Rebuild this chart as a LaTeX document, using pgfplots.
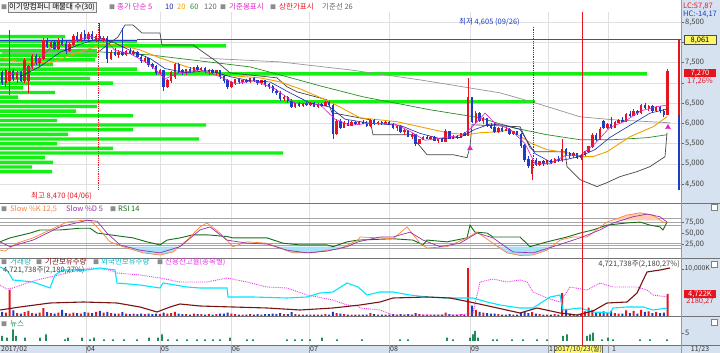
\documentclass[border=0pt]{standalone}
\usepackage{pgfplots}
\pgfplotsset{compat=1.18}
\usepackage{pgfplotstable}
\usepackage{fontspec}
\setmainfont{Noto Sans CJK KR}
\definecolor{upred}{RGB}{230,20,30}
\definecolor{dnblue}{RGB}{30,60,200}
\definecolor{maf}{RGB}{225,30,200}
\definecolor{mat}{RGB}{30,40,160}
\definecolor{matw}{RGB}{240,160,0}
\definecolor{mas}{RGB}{40,140,40}
\definecolor{mah}{RGB}{150,150,150}
\definecolor{kij}{RGB}{70,70,70}
\definecolor{prof}{RGB}{20,240,20}
\definecolor{stk}{RGB}{255,130,60}
\definecolor{std}{RGB}{150,50,170}
\definecolor{rsi}{RGB}{20,110,20}
\definecolor{frn}{RGB}{0,230,255}
\definecolor{inst}{RGB}{120,20,20}
\definecolor{cred}{RGB}{230,60,230}
\definecolor{newsg}{RGB}{30,140,90}
\definecolor{rbg}{RGB}{214,226,240}
\definecolor{volc}{RGB}{40,170,170}

\pgfplotstableread{
i o h l c v
0 7250 7300 6950 7000 900
1 7000 7350 6900 7300 700
2 7050 8300 6700 7280 5600
3 7280 7350 7050 7100 1200
4 7100 7300 7000 7250 600
5 7250 7280 7020 7050 500
6 7050 7600 7000 7550 800
7 7050 7450 6750 7400 1100
8 7400 7700 7350 7650 600
9 7650 7700 7450 7500 500
10 7500 7650 7400 7600 700
11 7600 8100 7550 8050 1700
12 8050 8100 7850 7900 800
13 7900 8050 7850 8000 600
14 8000 8050 7800 7850 500
15 7850 8100 7800 8050 700
16 8050 8100 7900 7950 1300
17 7950 8050 7700 7800 600
18 7800 8000 7750 7950 500
19 7950 8200 7900 8150 700
20 8150 8250 8000 8050 600
21 8050 8250 8000 8200 500
22 8200 8300 8050 8100 800
23 8100 8250 8050 8200 700
24 8200 8280 8050 8100 600
25 8100 8200 8000 8150 900
26 8150 8470 8050 8100 1100
27 8050 8150 8000 8100 700
28 8100 8150 7500 7600 900
29 7600 7800 7550 7750 600
30 7750 7850 7650 7700 500
31 7700 7800 7600 7750 500
32 7750 8350 7650 7700 800
33 7700 7800 7650 7780 500
34 7780 7850 7700 7720 400
35 7720 7800 7650 7760 500
36 7760 7780 7600 7640 400
37 7640 7700 7500 7550 500
38 7550 7650 7500 7600 400
39 7600 7620 7400 7450 500
40 7450 7500 7350 7400 400
41 7400 7450 7200 7250 500
42 7250 7350 7200 7300 400
43 7300 7300 6800 6900 700
44 6900 7100 6880 7050 500
45 7050 7300 7000 7250 600
46 7150 7500 7100 7450 900
47 7450 7480 7250 7300 500
48 7300 7350 7200 7250 400
49 7250 7350 7200 7320 400
50 7320 7400 7250 7280 300
51 7280 7400 7250 7380 500
52 7380 7450 7300 7320 400
53 7320 7400 7280 7350 400
54 7350 7380 7250 7280 300
55 7280 7350 7200 7300 400
56 7300 7330 7220 7250 300
57 7250 7320 7200 7300 400
58 7300 7310 7100 7150 500
59 7150 7200 7000 7050 500
60 7050 7100 6850 6900 700
61 6900 7050 6880 7000 500
62 7000 7100 6950 7080 400
63 7080 7100 6980 7020 300
64 7020 7080 6980 7050 300
65 7050 7100 7000 7030 300
66 7030 7120 7000 7100 400
67 7100 7150 7020 7050 300
68 7050 7080 6950 7000 400
69 7000 7060 6950 7050 300
70 7050 7080 6900 6950 400
71 6950 7000 6850 6900 400
72 6900 6950 6750 6800 500
73 6800 6850 6700 6750 400
74 6750 6800 6550 6600 600
75 6600 6700 6550 6650 400
76 6650 6680 6500 6550 400
77 6550 6600 6380 6420 800
78 6420 6500 6380 6480 400
79 6480 6520 6400 6440 300
80 6440 6500 6400 6480 300
81 6480 6520 6420 6450 300
82 6450 6520 6420 6500 300
83 6500 6530 6400 6420 300
84 6420 6500 6380 6470 300
85 6470 6500 6400 6430 300
86 6430 6550 6420 6520 400
87 6520 6550 6420 6450 300
88 6450 6480 5600 5750 900
89 5750 6100 5700 6050 600
90 6050 6100 5850 5900 500
91 5900 6050 5880 6000 400
92 6000 6080 5920 5950 300
93 5950 6050 5930 6020 300
94 6020 6060 5950 5980 300
95 5980 6050 5960 6030 300
96 6030 6080 5980 6000 300
97 6000 6050 5900 5930 300
98 5930 6100 5900 6080 600
99 6080 6100 5950 5980 400
100 5980 6050 5950 6020 300
101 6020 6060 5960 5990 300
102 5990 6050 5970 6030 300
103 6030 6060 5950 5970 300
104 5970 6000 5850 5880 400
105 5880 5950 5820 5920 300
106 5920 5940 5750 5780 400
107 5780 5850 5700 5820 300
108 5820 5840 5650 5680 400
109 5680 5750 5620 5720 300
110 5720 5740 5450 5500 600
111 5500 5620 5480 5600 400
112 5600 5680 5580 5650 300
113 5650 5700 5600 5620 300
114 5620 5680 5590 5660 300
115 5660 5680 5550 5580 300
116 5580 5620 5520 5600 300
117 5600 5640 5530 5550 300
118 5550 5850 5540 5800 700
119 5800 5820 5600 5620 400
120 5620 5700 5600 5680 300
121 5680 5720 5620 5650 300
122 5650 5760 5640 5740 400
123 5740 5780 5680 5700 300
124 5700 7120 5690 6630 10200
125 6630 6650 6000 6050 2200
126 6050 6300 6000 6250 1300
127 6250 6280 6020 6060 900
128 6060 6150 5980 6120 700
129 6120 6140 5900 5950 600
130 5950 6000 5850 5900 500
131 5900 6000 5750 5800 500
132 5800 5900 5750 5880 400
133 5880 5920 5780 5820 300
134 5820 5900 5800 5860 300
135 5860 5880 5700 5750 400
136 5750 5820 5700 5800 300
137 5800 5810 5700 5720 300
138 5720 5750 5400 5450 700
139 5450 5500 5050 5100 900
140 5100 5200 4900 4950 600
141 4750 5120 4605 5080 800
142 5080 5150 4950 4980 500
143 4980 5080 4950 5050 400
144 5050 5100 4950 5000 300
145 5000 5100 4980 5080 300
146 5080 5120 5000 5030 300
147 5030 5150 5020 5120 400
148 5120 5200 5050 5100 300
149 5100 5600 5050 5350 4900
150 5350 5400 5200 5250 1500
151 5250 5300 5150 5200 500
152 5200 5280 5150 5250 400
153 5250 5270 5120 5150 300
154 5150 5250 5100 5220 400
155 5220 5320 5200 5300 1000
156 5300 5450 5280 5420 1800
157 5420 5750 5400 5700 1300
158 5700 5750 5550 5600 700
159 5600 5900 5580 5850 900
160 6050 6080 5850 5880 1000
161 5880 6000 5860 5980 600
162 5980 6150 5850 5900 1100
163 5900 6050 5880 6020 600
164 6020 6100 6000 6080 500
165 6080 6150 6020 6050 500
166 6050 6250 6030 6220 1200
167 6220 6300 6150 6180 600
168 6180 6350 6170 6300 1100
169 6300 6330 6200 6250 500
170 6250 6480 6230 6450 1300
171 6450 6500 6350 6380 900
172 6380 6450 6300 6420 1000
173 6420 6440 6250 6300 600
174 6300 6420 6280 6400 900
175 6400 6420 6250 6300 600
176 6300 6350 6150 6200 700
177 6200 7330 6200 7270 4722
}\candles

\pgfplotsset{
  panel/.style={
    scale only axis, width=681pt, xmin=0, xmax=681,
    clip mode=individual,
    axis line style={draw=none},
    scaled y ticks=false, scaled x ticks=false,
    xtick={86,160,231,309,389,470,548,608}, xticklabels={},
    xmajorgrids, major x grid style={black!12}, major x tick style={draw=none},
    ytick pos=right, yticklabel pos=right, tick align=outside, major tick length=3pt,
    y tick style={black!60},
    yticklabel style={anchor=west, inner sep=1pt, font=\fontsize{7.5}{8}\selectfont, text=black!75},
  },
  up/.style={restrict expr to domain={\thisrow{c}-\thisrow{o}}{0:100000}},
  dn/.style={restrict expr to domain={\thisrow{c}-\thisrow{o}}{-100000:-0.01}},
}
\newcommand{\sq}{{\color{black!45}\fontsize{6}{6}\selectfont ■}}

\begin{document}
\begin{tikzpicture}[x=1pt,y=1pt,font=\fontsize{7.5}{8}\selectfont]
\useasboundingbox (0,0) rectangle (720,353);
\fill[white] (0,0) rectangle (720,353);
\fill[rbg] (681,0) rectangle (720,353);
\fill[rbg] (0,0) rectangle (720,8);

% ---------- price panel ----------
\begin{axis}[panel, at={(0pt,150pt)}, anchor=south west, height=191pt,
  ymin=4031, ymax=8747,
  ytick={4500,5000,5500,6000,6500,7000,7500,8000,8500},
  yticklabels={{4,500},{5,000},{5,500},{6,000},{6,500},{},{7,500},{},{8,500}},
  ymajorgrids, major y grid style={black!12}]
% volume profile
\addplot[xbar, bar shift=0pt, bar width=3.4pt, draw=none, fill=prof] coordinates {
(65,8138) (137,8025) (226,7909) (97,7793) (97,7680) (95,7564) (53,7448) (137,7335)
(647,7219) (90,7104) (113,6990) (23,6874) (55,6759) (18,6645) (535,6530) (97,6414)
(76,6300) (133,6185) (57,6069) (206,5956) (133,5840) (68,5724) (199,5611) (57,5495)
(113,5379) (283,5266) (45,5150) (53,5034) (32,4921) (52,4806)};
% limit lines
\addplot[dnblue, line width=0.8pt] coordinates {(0,8044) (137,8044)};
\addplot[upred, line width=0.8pt] coordinates {(137,8061) (681,8061)};
% moving averages
\addplot[mah, line width=0.7pt] coordinates {(200,7613) (280,7515) (350,7318) (420,7071) (500,6751) (535,6505) (580,6160) (613,6086) (670,6012)};
\addplot[mas, line width=0.7pt] coordinates {(100,7761) (150,7687) (200,7539) (250,7392) (280,7195) (320,6924) (363,6653) (430,6333) (480,6136) (513,5889) (547,5717) (580,5594) (613,5594) (647,5643) (667,5717)};
\addplot[kij, line width=0.7pt] coordinates {(2,7736) (97,7736) (118,8131) (125,8426) (133,8426) (142,8229) (160,8229) (162,7934) (193,7934) (217,7515) (230,7244) (277,7121) (287,6899) (297,6776) (327,6579) (332,6259) (370,6086) (373,5717) (413,5717) (417,5520) (427,5224) (453,5224) (467,5150) (470,5421) (472,5963) (520,5914) (530,5397) (535,5298) (565,5298) (567,4929) (580,4608) (597,4436) (607,4535) (620,4682) (637,4806) (650,4929) (665,5175) (667,5766)};
\addplot[matw, line width=0.9pt] coordinates {(2,7613) (20,7515) (50,7490) (77,7736) (100,7934) (120,7934) (140,7810) (160,7613) (187,7392) (220,7195) (260,7121) (280,7022) (300,6850) (330,6530) (360,6136) (397,6037) (420,5914) (447,5766) (467,5717) (480,5766) (500,5791) (510,5840) (530,5520) (547,5347) (567,5273) (580,5175) (593,5175) (607,5298) (630,5668) (653,5914) (667,6160)};
% candles
\addplot[draw=none, up, error bars/.cd, y dir=both, y explicit, error mark=none, error bar style={draw=upred, line width=0.6pt}]
  table[x expr=2+3.76*\thisrow{i}, y expr=(\thisrow{h}+\thisrow{l})/2, y error expr=(\thisrow{h}-\thisrow{l})/2] {\candles};
\addplot[draw=none, dn, error bars/.cd, y dir=both, y explicit, error mark=none, error bar style={draw=dnblue, line width=0.6pt}]
  table[x expr=2+3.76*\thisrow{i}, y expr=(\thisrow{h}+\thisrow{l})/2, y error expr=(\thisrow{h}-\thisrow{l})/2] {\candles};
\addplot[draw=none, up, error bars/.cd, y dir=both, y explicit, error mark=none, error bar style={draw=upred, line width=2.4pt}]
  table[x expr=2+3.76*\thisrow{i}, y expr=(\thisrow{o}+\thisrow{c})/2, y error expr=abs(\thisrow{c}-\thisrow{o})/2+8] {\candles};
\addplot[draw=none, dn, error bars/.cd, y dir=both, y explicit, error mark=none, error bar style={draw=dnblue, line width=2.4pt}]
  table[x expr=2+3.76*\thisrow{i}, y expr=(\thisrow{o}+\thisrow{c})/2, y error expr=abs(\thisrow{c}-\thisrow{o})/2+8] {\candles};
% short MAs
\addplot[mat, line width=0.6pt] coordinates {(20,7150) (40,7400) (60,7750) (80,7950) (100,8100) (115,7980) (130,7800) (150,7600) (165,7350) (185,7250) (210,7300) (230,7150) (250,7050) (270,7020) (290,6750) (310,6500) (330,6400) (345,6100) (370,6000) (400,5950) (420,5750) (440,5620) (460,5650) (475,5850) (490,5980) (505,5950) (520,5850) (535,5250) (550,5050) (565,5100) (580,5180) (595,5350) (610,5650) (630,5950) (650,6250) (667,6350)};
\addplot[maf, line width=0.6pt] coordinates {(10,7200) (30,7350) (50,7850) (70,8000) (90,8150) (105,8050) (115,7800) (130,7720) (150,7450) (165,7100) (180,7250) (200,7320) (220,7150) (235,6980) (255,7050) (275,6850) (295,6500) (320,6460) (335,6100) (350,5950) (370,6000) (395,5980) (410,5800) (425,5580) (445,5650) (462,5700) (472,5900) (485,6250) (495,6000) (510,5850) (525,5500) (535,5000) (550,5000) (565,5200) (580,5200) (595,5500) (610,5900) (625,6050) (640,6300) (655,6400) (667,6450)};
% range bar and markers
\addplot[upred, line width=1.4pt] coordinates {(679,8061) (679,6200)};
\addplot[dnblue, line width=1.4pt] coordinates {(679,6200) (679,4360)};
\addplot[only marks, mark=triangle*, mark size=2.8pt, color=maf] coordinates {(470,5380) (668,5900)};
\addplot[upred, densely dotted, line width=0.8pt] coordinates {(98,8470) (98,4360)};
\addplot[dnblue, densely dotted, line width=0.8pt] coordinates {(533,8380) (533,4900)};
\node[anchor=east, text=upred, inner sep=1pt] at (axis cs:93,4190) {최고 8,470 (04/06)};
\node[anchor=west, text=dnblue, inner sep=1pt] at (axis cs:458,8500) {최저 4,605 (09/26)};
\end{axis}

% ---------- stochastic panel ----------
\begin{axis}[panel, at={(0pt,95pt)}, anchor=south west, height=55pt,
  ymin=-5.7, ymax=119.3, ytick={25,50,75}, yticklabels={{25,00},{50,00},{75,00}}]
\draw[black!35] (axis cs:0,84) -- (axis cs:681,84);
\draw[black!35] (axis cs:0,75) -- (axis cs:681,75);
\draw[black!35] (axis cs:0,69) -- (axis cs:681,69);
\draw[black!35] (axis cs:0,29) -- (axis cs:681,29);
\draw[black!35] (axis cs:0,24) -- (axis cs:681,24);
\draw[black!35] (axis cs:0,16) -- (axis cs:681,16);
\addplot[fill=cyan!35, draw=none] coordinates {(125,20) (127,17) (143,6) (160,1) (173,8) (178,20)};
\addplot[fill=cyan!35, draw=none] coordinates {(276,20) (280,17) (293,6) (313,6) (327,12) (340,15) (348,20)};
\addplot[fill=cyan!35, draw=none] coordinates {(496,20) (507,6) (520,0) (533,1) (547,12) (553,20)};
\addplot[fill=stk!40, draw=none] coordinates {(612,80) (627,92) (640,97) (653,92) (660,80)};
\addplot[rsi, line width=0.9pt] coordinates {(0,31) (10,40) (30,51) (40,58) (60,58) (80,62) (90,62) (97,51) (110,47) (133,40) (147,31) (160,24) (167,35) (180,40) (193,47) (207,47) (227,43) (233,40) (267,40) (283,28) (300,24) (317,24) (327,24) (333,20) (347,31) (358,35) (393,38) (413,35) (423,24) (427,35) (447,31) (467,40) (470,69) (475,53) (487,51) (493,42) (520,42) (530,20) (547,31) (567,42) (580,51) (593,58) (607,69) (627,74) (640,76) (650,69) (660,65) (663,58) (667,76)};
\addplot[stk, line width=0.7pt] coordinates {(0,12) (5,10) (17,28) (33,40) (50,58) (67,76) (83,80) (90,80) (97,65) (110,31) (127,17) (143,6) (160,1) (173,8) (187,35) (200,65) (207,74) (220,51) (233,20) (247,31) (267,28) (280,17) (293,6) (313,6) (327,12) (340,15) (358,35) (360,42) (380,40) (393,38) (407,65) (420,28) (427,17) (447,20) (467,40) (477,53) (493,28) (507,6) (520,0) (533,1) (547,12) (560,35) (573,42) (587,42) (607,76) (627,92) (640,97) (653,92) (663,76) (667,74)};
\addplot[std, line width=0.7pt] coordinates {(0,31) (10,20) (33,35) (60,65) (87,80) (97,78) (107,51) (120,24) (140,12) (160,6) (180,20) (200,58) (210,65) (227,35) (247,28) (267,26) (287,12) (307,6) (327,10) (347,20) (358,31) (380,42) (393,42) (410,53) (423,35) (440,20) (460,28) (477,51) (493,40) (513,8) (533,6) (553,20) (580,40) (600,58) (613,74) (633,88) (647,94) (660,88) (667,76)};
\end{axis}

% ---------- volume panel ----------
\begin{axis}[panel, at={(0pt,37pt)}, anchor=south west, height=58pt,
  ymin=0, ymax=12340, ytick={10000}, yticklabels={{10,000K},{}},
  yticklabel style={font=\fontsize{6.8}{7}\selectfont, inner sep=0.5pt}]
\addplot[ybar, bar shift=0pt, bar width=2pt, draw=none, fill=upred, up] table[x expr=2+3.76*\thisrow{i}, y=v] {\candles};
\addplot[ybar, bar shift=0pt, bar width=2pt, draw=none, fill=dnblue, dn] table[x expr=2+3.76*\thisrow{i}, y=v] {\candles};
\end{axis}
\begin{axis}[scale only axis, width=681pt, height=58pt, at={(0pt,37pt)}, anchor=south west,
  xmin=0, xmax=681, ymin=0, ymax=58, axis lines=none, clip mode=individual]
\addplot[cred, densely dotted, line width=0.9pt] coordinates {(0,31) (7,27) (13,28) (27,33) (37,36) (50,39) (67,43) (90,48) (110,46) (117,43) (140,41) (160,38) (180,34) (207,34) (227,38) (247,34) (267,29) (287,28) (307,21) (333,16) (347,11) (358,10) (360,8) (380,6) (393,1) (427,1) (460,1) (473,3) (480,34) (493,37) (507,34) (520,36) (527,34) (533,24) (547,18) (560,14) (570,29) (587,26) (600,33) (613,29) (637,29) (647,26) (653,21) (667,19)};
\addplot[frn, line width=1.1pt] coordinates {(0,49) (7,46) (13,36) (33,34) (50,28) (55,41) (63,46) (87,46) (100,48) (115,46) (117,33) (140,31) (160,28) (163,33) (187,29) (200,28) (227,28) (228,19) (253,19) (287,18) (307,19) (320,23) (333,24) (347,33) (358,29) (367,21) (380,24) (393,24) (410,21) (427,19) (447,18) (473,18) (487,14) (500,11) (520,8) (533,8) (550,19) (560,21) (563,6) (580,8) (593,4) (610,3) (613,8) (627,9) (643,9) (653,6) (667,8)};
\addplot[inst, line width=1.1pt] coordinates {(0,6) (20,9) (50,13) (83,14) (117,13) (140,9) (157,4) (170,9) (180,12) (200,10) (233,9) (267,8) (300,6) (333,8) (360,11) (380,14) (393,18) (427,19) (450,18) (470,14) (493,9) (520,3) (537,8) (560,3) (577,1) (593,5) (607,13) (627,14) (637,23) (647,44) (660,46) (670,48)};
\end{axis}

% ---------- news panel ----------
\begin{axis}[panel, at={(0pt,8pt)}, anchor=south west, height=29pt,
  ymin=-2.4, ymax=15, ytick={5}, yticklabels={5}]
\addplot[ybar, bar shift=0pt, bar width=1.6pt, draw=none, fill=newsg] coordinates {
(2,3) (7,2) (13,7) (16,3) (25,2) (40,2) (46,4) (65,1) (68,2) (82,2) (90,1) (94,2) (104,1) (113,1) (124,1) (137,1) (149,2) (158,2) (162,4) (168,1) (177,1) (187,1) (197,1) (205,1) (213,1) (220,1) (230,2) (247,1) (253,1) (287,1) (295,1) (302,1) (310,1) (322,2) (337,1) (362,1) (400,1) (408,1) (447,2) (453,1) (470,2) (473,4) (475,6) (478,2) (493,1) (497,1) (512,1) (523,1) (537,1) (547,1) (563,3) (567,4) (587,3) (590,4) (593,5) (602,1) (608,2) (613,1) (640,1) (650,1) (667,1)};
\end{axis}

% ---------- frames and decorations ----------
\draw[black!55, line width=0.8pt] (0,150) -- (720,150);
\draw[black!55, line width=0.8pt] (0,95) -- (720,95);
\draw[black!55, line width=0.8pt] (0,37) -- (720,37);
\draw[black!55, line width=0.8pt] (0,8) -- (720,8);
\draw[black!40] (681,0) -- (681,353);
\draw[upred, line width=0.7pt] (582,8) -- (582,341);

% header
\node[anchor=west, inner sep=0pt] at (1,346) {\sq};
\node[anchor=west, draw=black!50, fill=black!5, inner sep=1pt] at (8,346) {이기망컴퍼니 매물대 수(30)};
\node[anchor=west, inner sep=0pt] at (109,346) {\sq};
\node[anchor=west, inner sep=0pt, text=maf] at (117,346) {종가 단순 5};
\node[anchor=west, inner sep=0pt, text=mat] at (165,346) {10};
\node[anchor=west, inner sep=0pt, text=matw] at (177,346) {20};
\node[anchor=west, inner sep=0pt, text=mas] at (190,346) {60};
\node[anchor=west, inner sep=0pt, text=black!60] at (204,346) {120};
\node[anchor=west, inner sep=0pt] at (220,346) {\sq};
\node[anchor=west, inner sep=0pt, text=maf] at (229,346) {기준봉표시};
\node[anchor=west, inner sep=0pt] at (270,346) {\sq};
\node[anchor=west, inner sep=0pt, text=upred] at (279,346) {상한가표시};
\node[anchor=west, inner sep=0pt, text=black!60] at (322,346) {기준선 26};

% stochastic header
\node[anchor=west, inner sep=0pt] at (1,144) {\sq};
\node[anchor=west, inner sep=0pt, text=stk] at (10,144) {Slow \%K 12,5};
\node[anchor=west, inner sep=0pt, text=std] at (66,144) {Slow \%D 5};
\node[anchor=west, inner sep=0pt] at (110,144) {\sq};
\node[anchor=west, inner sep=0pt, text=rsi] at (118,144) {RSI 14};

% volume header
\node[anchor=west, inner sep=0pt] at (1,91) {\sq};
\node[anchor=west, inner sep=0pt, text=volc] at (10,91) {거래량};
\node[anchor=west, inner sep=0pt] at (36,91) {\sq};
\node[anchor=west, inner sep=0pt, text=inst] at (45,91) {기관보유수량};
\node[anchor=west, inner sep=0pt] at (93,91) {\sq};
\node[anchor=west, inner sep=0pt, text=frn!80!black] at (101,91) {외국인보유수량};
\node[anchor=west, inner sep=0pt] at (157,91) {\sq};
\node[anchor=west, inner sep=0pt, text=cred] at (165,91) {신용잔고율(종목별)};
\node[anchor=west, inner sep=0pt, text=black!75] at (3,83) {4,721,738주(2,180,27\%)};
\node[anchor=east, inner sep=0pt, text=black!75] at (680,89) {4,721,738주(2,180,27\%)};

% news header
\node[anchor=west, inner sep=0pt] at (1,29) {\sq};
\node[anchor=west, inner sep=0pt, text=newsg] at (10,29) {뉴스};

% right column labels
\node[anchor=west, inner sep=0pt, text=upred] at (683,347) {LC:57,87};
\node[anchor=west, inner sep=0pt, text=dnblue] at (683,339) {HC:-14,17};
\node[draw=black!70, fill=yellow!60, inner sep=1pt, minimum width=32pt] at (700,313) {8,061};
\node[fill=upred, text=white, inner sep=1pt, minimum width=32pt] at (700,280) {7,270};
\node[text=upred, inner sep=0pt] at (700,272) {17,26\%};
\node[fill=upred, text=white, inner sep=1pt, minimum width=32pt] at (700,59) {4,722K};
\node[text=upred, inner sep=0pt] at (700,52) {2180,27};
\foreach \yy in {146,89,31} {\draw[black!50, fill=white] (711,\yy-3) rectangle (717,\yy+3);}

% date strip
\begin{scope}[font=\fontsize{7}{7}\selectfont, text=black!80]
\node[anchor=west, inner sep=0pt] at (1,4) {2017/02};
\node[anchor=west, inner sep=0pt] at (87,4) {04};
\node[anchor=west, inner sep=0pt] at (161,4) {05};
\node[anchor=west, inner sep=0pt] at (232,4) {06};
\node[anchor=west, inner sep=0pt] at (310,4) {07};
\node[anchor=west, inner sep=0pt] at (390,4) {08};
\node[anchor=west, inner sep=0pt] at (471,4) {09};
\node[anchor=west, inner sep=0pt] at (549,4) {1};
\node[anchor=west, inner sep=0pt] at (612,4) {1};
\node[inner sep=0pt] at (700,4) {11/23};
\foreach \xx in {86,160,231,309,389,470,548,608,681} {\draw[black!40] (\xx,0) -- (\xx,8);}
\node[draw=black!60, fill=yellow!55, inner sep=0.6pt, anchor=west] at (553.5,4) {2017/10/23(월)};
\end{scope}
\end{tikzpicture}
\end{document}
